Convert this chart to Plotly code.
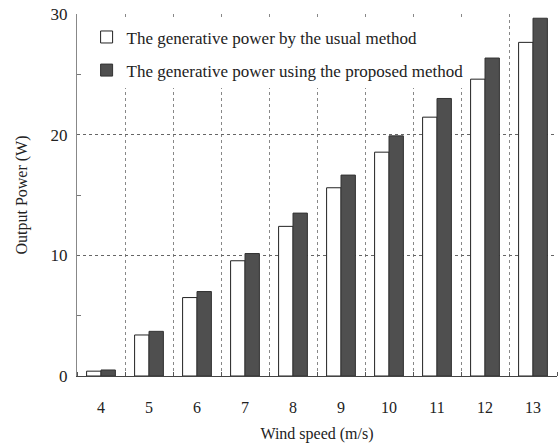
import plotly.graph_objects as go

wind_speed = [4, 5, 6, 7, 8, 9, 10, 11, 12, 13]
power_usual = [0.4, 3.4, 6.5, 9.55, 12.4, 15.6, 18.55, 21.45, 24.6, 27.65]
power_proposed = [0.5, 3.7, 7.0, 10.15, 13.5, 16.65, 19.9, 23.0, 26.35, 29.65]
y_ticks = [0, 10, 20, 30]

serif = "Liberation Serif, Times New Roman, serif"

fig = go.Figure()
fig.add_trace(go.Bar(
    x=wind_speed, y=power_usual,
    name="The generative power by the usual method",
    marker=dict(color="white", line=dict(color="#222222", width=1)),
    legendgroup="a",
))
fig.add_trace(go.Bar(
    x=wind_speed, y=power_proposed,
    name="The generative power using the proposed method",
    marker=dict(color="#4f4f4f", line=dict(color="#333333", width=1)),
    legendgroup="b",
))

fig.update_layout(
    width=558, height=443,
    margin=dict(l=77, r=1, t=14, b=67),
    paper_bgcolor="white", plot_bgcolor="white",
    barmode="group", bargap=0.4, bargroupgap=0.0,
    font=dict(family=serif, size=15, color="#222222"),
    showlegend=True,
    legend=dict(
        x=0.02, y=0.985, xanchor="left", yanchor="top",
        bgcolor="white", borderwidth=0,
        font=dict(family=serif, size=17, color="#222222"),
        tracegroupgap=8, itemwidth=30,
    ),
    xaxis=dict(
        range=[3.5, 13.5], tickvals=wind_speed, ticktext=[str(v) for v in wind_speed],
        showgrid=False, zeroline=False,
        showline=True, linecolor="#444444", linewidth=1,
        ticks="", tickfont=dict(size=16),
        minor=dict(tick0=4.5, dtick=1, showgrid=True, gridcolor="#888888",
                   griddash="dot", gridwidth=1, ticks="inside", ticklen=4,
                   tickcolor="#555555"),
        title=dict(text="Wind speed (m/s)", font=dict(size=16), standoff=12),
        ticklabelstandoff=17,
    ),
    yaxis=dict(
        range=[0, 30], tickvals=y_ticks,
        showgrid=True, gridcolor="#666666", griddash="dot", gridwidth=1,
        zeroline=False,
        showline=True, linecolor="#888888", linewidth=1,
        ticks="", tickfont=dict(size=17),
        minor=dict(tick0=5, dtick=10, ticks="inside", ticklen=4, tickcolor="#777777"),
        title=dict(text="Output Power (W)", font=dict(size=16), standoff=18),
        ticklabelstandoff=5,
    ),
)

fig.write_html("out.html")
